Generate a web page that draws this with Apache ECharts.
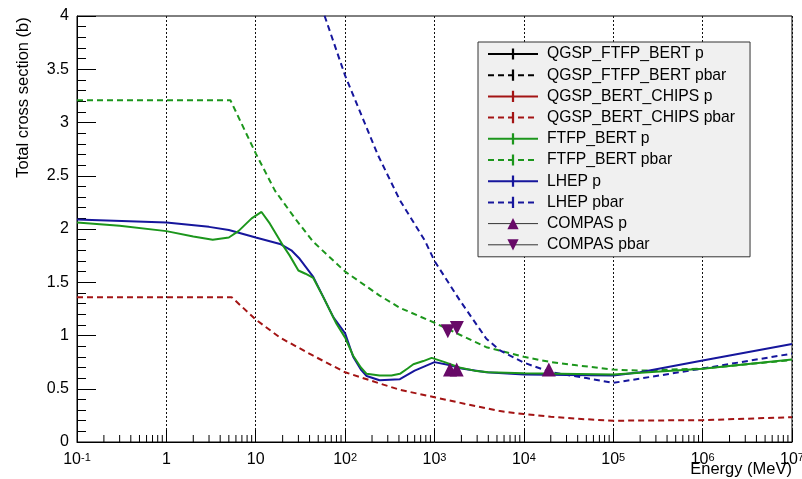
<!DOCTYPE html>
<html><head><meta charset="utf-8">
<script src="https://cdn.jsdelivr.net/npm/echarts@6/dist/echarts.min.js"></script>
<style>html,body{margin:0;padding:0;background:#fff}#c{width:802px;height:479px}</style>
</head><body><div id="c"></div>
<script>
// ---- data (energy in MeV, cross section in b) ----
const ftfpP_E = [0.1, 0.3, 1, 2, 3.3, 5, 6.4, 9, 11.6, 14.4, 20, 24, 30, 36, 44, 57, 80, 100, 123, 150, 174, 243, 330, 410, 500, 580, 750, 930, 1300, 1900, 2800, 4000, 10000, 1e5, 1e6, 1e7];
const ftfpP_S = [2.06, 2.03, 1.98, 1.93, 1.90, 1.92, 1.98, 2.10, 2.16, 2.05, 1.85, 1.75, 1.61, 1.58, 1.54, 1.36, 1.11, 0.98, 0.81, 0.70, 0.64, 0.625, 0.625, 0.64, 0.69, 0.73, 0.76, 0.79, 0.75, 0.70, 0.67, 0.655, 0.646, 0.634, 0.687, 0.775];

const ftfpPbar_E = [0.1, 5.2, 10, 16.4, 28.6, 44, 100, 243, 410, 1000, 2000, 3800, 10000, 20000, 39000, 1e5, 2e5, 1e6, 1e7];
const ftfpPbar_S = [3.21, 3.21, 2.71, 2.36, 2.08, 1.88, 1.60, 1.375, 1.26, 1.12, 1.0, 0.89, 0.80, 0.75, 0.72, 0.68, 0.67, 0.69, 0.77];

const lhepP_E = [0.1, 1, 3, 5, 10, 18.7, 25, 31, 44, 74, 100, 123, 150, 174, 243, 410, 600, 1000, 1500, 2000, 3800, 10000, 1e5, 2e5, 1e6, 1e7];
const lhepP_S = [2.09, 2.06, 2.02, 1.99, 1.92, 1.86, 1.80, 1.72, 1.55, 1.17, 1.02, 0.80, 0.68, 0.62, 0.58, 0.59, 0.67, 0.75, 0.72, 0.69, 0.655, 0.634, 0.624, 0.655, 0.765, 0.92];

const lhepPbar_E = [50, 59, 100, 234, 410, 781, 1000, 1920, 3800, 5400, 10000, 20000, 50000, 1e5, 1e6, 1e7];
const lhepPbar_S = [4.18, 4.0, 3.44, 2.69, 2.27, 1.89, 1.70, 1.33, 0.97, 0.86, 0.745, 0.655, 0.60, 0.555, 0.69, 0.83];

const chipsPbar_E = [0.1, 5.37, 10, 18.7, 44, 100, 243, 410, 1000, 2290, 5400, 10000, 20000, 40000, 1e5, 1e6, 1e7];
const chipsPbar_S = [1.36, 1.36, 1.15, 0.98, 0.81, 0.655, 0.55, 0.49, 0.42, 0.355, 0.29, 0.262, 0.238, 0.218, 0.20, 0.205, 0.233];

// QGSP_FTFP_BERT and QGSP_BERT_CHIPS p coincide with FTFP_BERT (hidden beneath it)
const qgspFtfpP_E = ftfpP_E, qgspFtfpP_S = ftfpP_S;
const qgspFtfpPbar_E = ftfpPbar_E, qgspFtfpPbar_S = ftfpPbar_S;
const chipsP_E = ftfpP_E, chipsP_S = ftfpP_S;

const compasP_E = [1490, 1770, 19000];
const compasP_S = [0.68, 0.68, 0.68];
const compasPbar_E = [1410, 1780];
const compasPbar_S = [1.04, 1.07];

const minorTickE = [];
for (let n = -1; n < 7; n++) for (let k = 2; k <= 9; k++) minorTickE.push(k * Math.pow(10, n));

// ---- chart ----
const FONT = 'Liberation Sans';
const zip = (E, S) => E.map((e, i) => [e, S[i]]);
const BAR = 'path://M0,0L0.01,0L0,0.01Z M4,0L6,0L6,10L4,10Z M10,10L9.99,10L10,9.99Z';

function model(name, E, S, color, dashed, hidden) {
  return {
    name, type: 'line', data: zip(E, S), showSymbol: false, symbol: BAR,
    silent: true, animation: false,
    itemStyle: { color },
    lineStyle: { color, width: 2, type: dashed ? [6, 4] : 'solid', opacity: hidden ? 0 : 1 },
    emphasis: { disabled: true }
  };
}
function compas(name, E, S, rot) {
  return {
    name, type: 'line', data: zip(E, S), symbol: 'triangle', symbolSize: 14, symbolRotate: rot,
    showSymbol: true, silent: true, animation: false, z: 5,
    itemStyle: { color: '#680a68' },
    lineStyle: { color: '#333', width: 1, opacity: 0 },
    emphasis: { disabled: true }
  };
}

const GREEN = '#1c961c', BLUE = '#16169c', RED = '#a31414', BLACK = '#000';

const series = [
  model('QGSP_FTFP_BERT p', qgspFtfpP_E, qgspFtfpP_S, BLACK, false, true),
  model('QGSP_FTFP_BERT pbar', qgspFtfpPbar_E, qgspFtfpPbar_S, BLACK, true, true),
  model('QGSP_BERT_CHIPS p', chipsP_E, chipsP_S, RED, false, true),
  model('QGSP_BERT_CHIPS pbar', chipsPbar_E, chipsPbar_S, RED, true, false),
  model('FTFP_BERT pbar', ftfpPbar_E, ftfpPbar_S, GREEN, true, false),
  model('LHEP pbar', lhepPbar_E, lhepPbar_S, BLUE, true, false),
  model('LHEP p', lhepP_E, lhepP_S, BLUE, false, false),
  model('FTFP_BERT p', ftfpP_E, ftfpP_S, GREEN, false, false),
  compas('COMPAS p', compasP_E, compasP_S, 0),
  compas('COMPAS pbar', compasPbar_E, compasPbar_S, 180),
  {
    type: 'custom', silent: true, z: 4, clip: false, animation: false,
    data: minorTickE.map(v => [v, 0]), encode: { x: 0, y: 1 },
    renderItem: (params, api) => {
      const p = api.coord([api.value(0), 0]);
      return { type: 'line', shape: { x1: p[0], y1: p[1], x2: p[0], y2: p[1] - 7 }, style: { stroke: '#000', lineWidth: 1 } };
    }
  }
];

const legendNames = ['QGSP_FTFP_BERT p', 'QGSP_FTFP_BERT pbar', 'QGSP_BERT_CHIPS p', 'QGSP_BERT_CHIPS pbar',
  'FTFP_BERT p', 'FTFP_BERT pbar', 'LHEP p', 'LHEP pbar', 'COMPAS p', 'COMPAS pbar'];

const chart = echarts.init(document.getElementById('c'), null, { renderer: 'canvas' });
chart.setOption({
  animation: false,
  textStyle: { fontFamily: FONT },
  grid: { left: 77, right: 10, top: 16, bottom: 37, show: true, borderColor: '#000', borderWidth: 1,
          backgroundColor: 'rgba(0,0,0,0)', containLabel: false, outerBoundsMode: 'none' },
  xAxis: {
    type: 'log', logBase: 10, min: 0.1, max: 1e7, splitNumber: 8,
    axisLine: { show: true, onZero: false, lineStyle: { color: '#000', width: 1 } },
    axisTick: { show: true, inside: true, length: 12, lineStyle: { color: '#000' } },
    splitLine: { show: true, lineStyle: { color: '#111', type: [2, 2], width: 1 } },
    axisLabel: {
      margin: 10, color: '#000', fontFamily: FONT, fontSize: 16, hideOverlap: false,
      formatter: v => {
        const e = Math.round(Math.log10(v));
        if (e === 0) return '{b|1}';
        if (e === 1) return '{b|10}';
        return '{b|10}{s|' + e + '}';
      },
      rich: {
        b: { fontSize: 16, lineHeight: 16, verticalAlign: 'bottom', fontFamily: FONT, color: '#000' },
        s: { fontSize: 11, lineHeight: 11, padding: [0, 0, 6, 0], verticalAlign: 'top', fontFamily: FONT, color: '#000' }
      }
    }
  },
  yAxis: {
    type: 'value', min: 0, max: 4, interval: 0.5,
    axisLine: { show: true, lineStyle: { color: '#000', width: 1 } },
    axisTick: { show: true, inside: true, length: 19, lineStyle: { color: '#000' } },
    minorTick: { show: true, splitNumber: 5, length: 9, lineStyle: { color: '#000' } },
    splitLine: { show: false },
    axisLabel: { margin: 8, color: '#000', fontFamily: FONT, fontSize: 16 }
  },
  legend: {
    orient: 'vertical', left: 478, top: 42,
    itemWidth: 50, itemHeight: 14, itemGap: 5.2,
    padding: [4, 15, 4, 9],
    backgroundColor: '#f0f0f0', borderColor: '#333', borderWidth: 1, borderRadius: 0,
    selectedMode: false,
    textStyle: { fontSize: 15.7, color: '#000', fontFamily: FONT, padding: [0, 0, 0, 4] },
    data: legendNames.map(n => n.startsWith('COMPAS')
      ? { name: n, lineStyle: { opacity: 1, color: '#333', width: 1, type: 'solid' } }
      : { name: n, lineStyle: { opacity: 1 } })
  },
  graphic: [
    { type: 'text', x: 23.5, y: 97.5, rotation: Math.PI / 2,
      style: { text: 'Total cross section (b)', font: '16.5px "Liberation Sans"', fill: '#000', align: 'center', verticalAlign: 'middle' } },
    { type: 'text', x: 792, y: 469,
      style: { text: 'Energy (MeV)', font: '16.5px "Liberation Sans"', fill: '#000', align: 'right', verticalAlign: 'middle' } }
  ],
  series
});
</script></body></html>
